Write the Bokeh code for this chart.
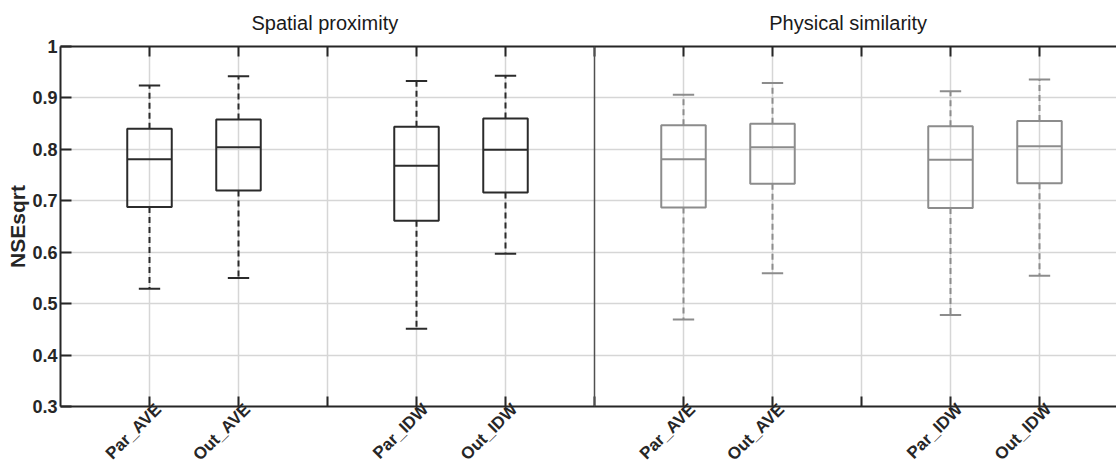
import math
from bokeh.plotting import figure
from bokeh.layouts import column
from bokeh.models import FixedTicker, LinearAxis, Span, ColumnDataSource, Range1d
from bokeh.core.properties import value
from bokeh.embed import file_html
from bokeh.resources import INLINE

# ---- data ----
positions = [1, 2, 4, 5, 7, 8, 10, 11]
groups = ["Spatial", "Spatial", "Spatial", "Spatial", "Physical", "Physical", "Physical", "Physical"]
methods = ["Par_AVE", "Out_AVE", "Par_IDW", "Out_IDW", "Par_AVE", "Out_AVE", "Par_IDW", "Out_IDW"]
whisker_low = [0.529, 0.550, 0.451, 0.597, 0.469, 0.559, 0.478, 0.554]
q1 = [0.688, 0.720, 0.661, 0.716, 0.687, 0.733, 0.686, 0.734]
median = [0.781, 0.804, 0.768, 0.799, 0.781, 0.804, 0.780, 0.806]
q3 = [0.840, 0.858, 0.844, 0.860, 0.847, 0.850, 0.845, 0.855]
whisker_high = [0.924, 0.942, 0.933, 0.943, 0.906, 0.929, 0.913, 0.936]
y_ticks = [0.3, 0.4, 0.5, 0.6, 0.7, 0.8, 0.9, 1.0]
y_tick_labels = ["0.3", "0.4", "0.5", "0.6", "0.7", "0.8", "0.9", "1"]
x_ticks = [1, 2, 3, 4, 5, 6, 7, 8, 9, 10, 11]
x_tick_labels = ["Par_AVE", "Out_AVE", "", "Par_IDW", "Out_IDW", "", "Par_AVE", "Out_AVE", "", "Par_IDW", "Out_IDW"]
panel_titles = ["Spatial proximity", "Physical similarity"]
panel_title_x = [2.97, 8.85]

FONT = "Liberation Sans"
DARK = "#262626"
colors = {"Spatial": "#2b2b2b", "Physical": "#8c8c8c"}
BOX_W = 0.5
CAP_W = 0.24
LABEL_SHIFT = 0.1   # tick labels sit slightly right of their ticks, as in the original

W = 1116
LEFT = 60
HEADER_H = 34
x_end = (W - LEFT) / 89.0
xr = Range1d(0, x_end)

# header with the two panel titles
hdr = figure(width=W, height=HEADER_H, output_backend="svg", toolbar_location=None,
             x_range=xr, y_range=Range1d(0, HEADER_H),
             min_border_left=LEFT, min_border_right=0, min_border_top=0, min_border_bottom=0,
             x_axis_location=None, y_axis_location=None)
hdr.outline_line_color = None
hdr.xgrid.visible = False
hdr.ygrid.visible = False
hdr.text(x=panel_title_x, y=[HEADER_H - 22] * 2, text=panel_titles, text_align="center",
         text_baseline="middle", text_font=value(FONT), text_font_size="20px", text_color="#1a1a1a")

p = figure(width=W, height=474 - HEADER_H, output_backend="svg", toolbar_location=None,
           x_range=xr, y_range=Range1d(0.3, 1.0),
           min_border_left=LEFT, min_border_right=0, min_border_top=46 - HEADER_H, min_border_bottom=67,
           x_axis_location=None, y_axis_location=None)
p.outline_line_color = None
p.background_fill_color = "white"
p.border_fill_color = "white"
p.extra_x_ranges = {"labels": Range1d(-LABEL_SHIFT, x_end - LABEL_SHIFT)}

def style_axis(ax):
    ax.axis_line_color = DARK
    ax.axis_line_width = 2
    ax.major_tick_line_color = DARK
    ax.major_tick_line_width = 2
    ax.major_tick_in = 10
    ax.major_tick_out = 0
    ax.minor_tick_line_color = None
    ax.major_label_text_font = FONT
    ax.major_label_text_font_style = "bold"
    ax.major_label_text_color = DARK

# bottom axis: line + ticks
xb = LinearAxis(ticker=FixedTicker(ticks=x_ticks),
                major_label_overrides={t: "" for t in x_ticks})
style_axis(xb)
xb.major_label_text_font_size = "0px"
xb.major_label_standoff = 0
p.add_layout(xb, "below")

# bottom axis: the rotated category labels
xl = LinearAxis(ticker=FixedTicker(ticks=x_ticks), x_range_name="labels",
                major_label_overrides={t: l for t, l in zip(x_ticks, x_tick_labels)})
style_axis(xl)
xl.axis_line_color = None
xl.major_tick_line_color = None
xl.major_label_text_font_size = "17px"
xl.major_label_orientation = math.pi / 4
xl.major_label_standoff = 0
p.add_layout(xl, "below")

xt = LinearAxis(ticker=FixedTicker(ticks=x_ticks),
                major_label_overrides={t: "" for t in x_ticks})
style_axis(xt)
xt.major_label_text_font_size = "0px"
xt.major_label_standoff = 0
p.add_layout(xt, "above")

yl = LinearAxis(ticker=FixedTicker(ticks=y_ticks),
                major_label_overrides={t: l for t, l in zip(y_ticks, y_tick_labels)},
                axis_label="NSEsqrt")
style_axis(yl)
yl.major_tick_in = 11
yl.major_label_text_font_size = "18px"
yl.major_label_standoff = 3
yl.axis_label_text_font = FONT
yl.axis_label_text_font_size = "21px"
yl.axis_label_text_font_style = "bold"
yl.axis_label_text_color = DARK
yl.axis_label_standoff = 0
p.add_layout(yl, "left")

p.xgrid.ticker = FixedTicker(ticks=[t for t in x_ticks if t != 6])
p.ygrid.ticker = FixedTicker(ticks=y_ticks[1:-1])
for g in (p.xgrid, p.ygrid):
    g.grid_line_color = "#d6d6d6"
    g.grid_line_width = 1.5

p.add_layout(Span(location=6, dimension="height", line_color="#505050", line_width=1.5))

cols = [colors[g] for g in groups]
src = ColumnDataSource(dict(
    x=positions, q1=q1, q3=q3, med=median, lo=whisker_low, hi=whisker_high, color=cols,
    bl=[x - BOX_W / 2 for x in positions], br=[x + BOX_W / 2 for x in positions],
    cl=[x - CAP_W / 2 for x in positions], cr=[x + CAP_W / 2 for x in positions],
))

p.segment(x0="x", y0="q3", x1="x", y1="hi", source=src, line_color="color", line_width=2, line_dash="6 4")
p.segment(x0="x", y0="q1", x1="x", y1="lo", source=src, line_color="color", line_width=2, line_dash="6 4")
p.segment(x0="cl", y0="hi", x1="cr", y1="hi", source=src, line_color="color", line_width=2)
p.segment(x0="cl", y0="lo", x1="cr", y1="lo", source=src, line_color="color", line_width=2)
p.quad(left="bl", right="br", bottom="q1", top="q3", source=src, fill_alpha=0,
       line_color="color", line_width=2)
p.segment(x0="bl", y0="med", x1="br", y1="med", source=src, line_color="color", line_width=2)

layout = column(hdr, p, spacing=0)
open("out.html", "w").write(file_html(layout, INLINE))
